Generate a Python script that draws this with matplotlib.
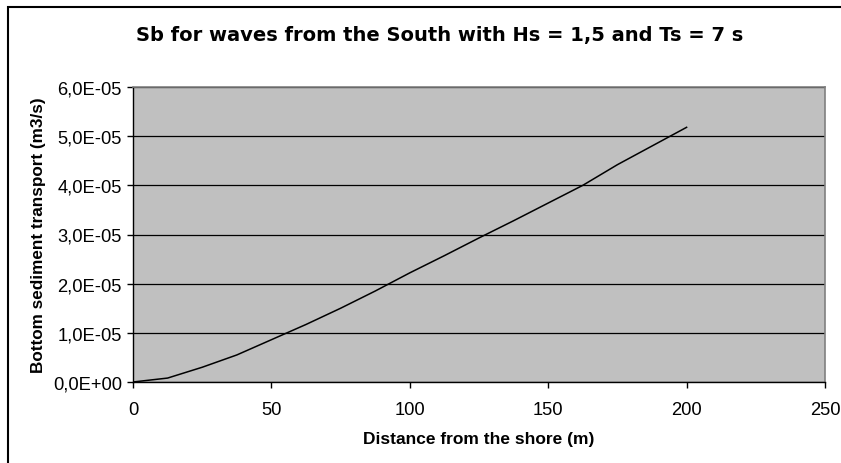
import matplotlib
matplotlib.use("Agg")
import matplotlib.pyplot as plt
from matplotlib.patches import Rectangle
from matplotlib.ticker import FuncFormatter

distance = [0, 12.5, 25, 37.5, 50, 62.5, 75, 87.5, 100, 112.5, 125, 137.5,
            150, 162.5, 175, 187.5, 200]
transport_e5 = [0.0, 0.08, 0.30, 0.55, 0.86, 1.17, 1.50, 1.85, 2.22, 2.57,
                2.93, 3.28, 3.64, 4.00, 4.42, 4.80, 5.18]
transport = [v * 1e-5 for v in transport_e5]

x_ticks = [0, 50, 100, 150, 200, 250]
y_ticks = [0, 1e-5, 2e-5, 3e-5, 4e-5, 5e-5, 6e-5]

title = "Sb for waves from the South with Hs = 1,5 and Ts = 7 s"
xlabel = "Distance from the shore (m)"
ylabel = "Bottom sediment transport (m3/s)"

W, H = 841, 464
fig = plt.figure(figsize=(W / 100, H / 100), dpi=100)
fig.patch.set_facecolor("white")

# outer chart border (extends beyond right/bottom edges)
fig.patches.append(Rectangle((8 / W, -0.2), 1.5, 1.2 - 8 / H,
                             transform=fig.transFigure, fill=False,
                             edgecolor="black", linewidth=1.5))

ax = fig.add_axes([133 / W, 1 - 383 / H, (825 - 133) / W, (383 - 88) / H])
ax.set_facecolor("#C0C0C0")

ax.plot(distance, transport, color="black", linewidth=1.1, zorder=3)

ax.set_xlim(0, 250)
ax.set_ylim(0, 6e-5)
ax.set_xticks(x_ticks)
ax.set_yticks(y_ticks)

def yfmt(v, pos):
    s = f"{v:.1E}"
    mant, exp = s.split("E")
    e = int(exp)
    sign = "+" if e >= 0 else "-"
    return f"{mant.replace('.', ',')}E{sign}{abs(e):02d}"

ax.yaxis.set_major_formatter(FuncFormatter(yfmt))

ax.yaxis.grid(True, color="black", linewidth=0.9)
ax.set_axisbelow(True)

for s in ["top", "right"]:
    ax.spines[s].set_color("#808080")
    ax.spines[s].set_linewidth(1.2)
for s in ["left", "bottom"]:
    ax.spines[s].set_color("black")
    ax.spines[s].set_linewidth(1.0)

ax.tick_params(axis="both", direction="out", length=4, width=1.0,
               color="black", labelsize=13.2)
for lab in ax.get_xticklabels() + ax.get_yticklabels():
    lab.set_fontfamily("Liberation Sans")
ax.tick_params(axis="x", pad=10)
ax.tick_params(axis="y", pad=4)

ax.set_xlabel(xlabel, fontfamily="Liberation Sans", fontweight="bold",
              fontsize=12.5, labelpad=9)
ax.set_ylabel(ylabel, fontfamily="Liberation Sans", fontweight="bold",
              fontsize=12.3, labelpad=5)

fig.text(440 / W, 1 - 35 / H, title, ha="center", va="center",
         fontfamily="DejaVu Sans", fontweight="bold", fontsize=14)

fig.savefig("out.png", dpi=100)
